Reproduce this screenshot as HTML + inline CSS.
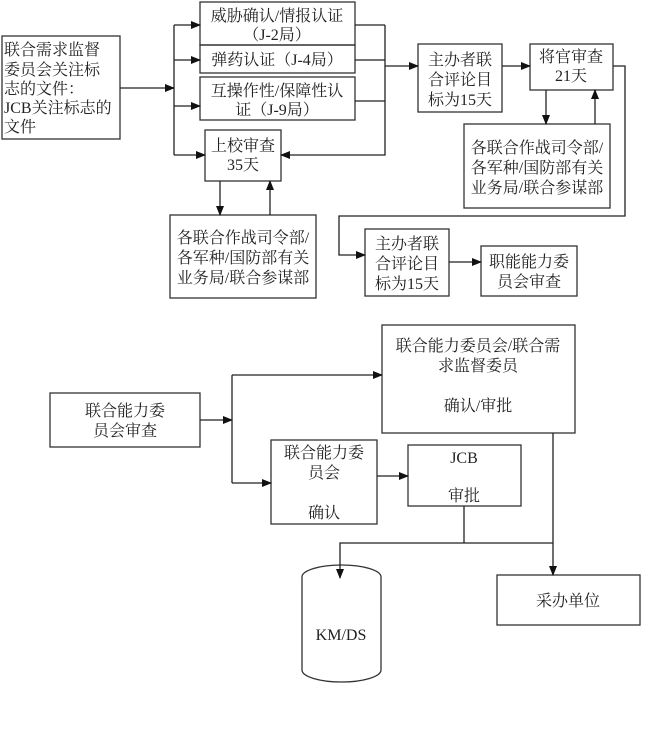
<!DOCTYPE html>
<html><head><meta charset="utf-8"><style>
html,body{margin:0;padding:0;background:#fff;}
svg{display:block;}
text{font-family:"Liberation Serif","Noto Serif CJK SC",serif;font-size:16px;fill:#222;}
</style></head><body>
<svg width="655" height="752" viewBox="0 0 655 752" xmlns="http://www.w3.org/2000/svg">
<defs><marker id="a" markerWidth="10" markerHeight="8" refX="9" refY="4" orient="auto" markerUnits="userSpaceOnUse"><path d="M0,0 L10,4 L0,8 Z" fill="#111"/></marker></defs>
<g fill="none" stroke="#333" stroke-width="1.3">
<rect x="2" y="36" width="118" height="103"/>
<rect x="200" y="2" width="155" height="43"/>
<rect x="200" y="45" width="155" height="28"/>
<rect x="200" y="77" width="155" height="43"/>
<rect x="205" y="130" width="76" height="51"/>
<rect x="170" y="215" width="146" height="83"/>
<rect x="418" y="44" width="84" height="68"/>
<rect x="530" y="44" width="83" height="46"/>
<rect x="464" y="124" width="146" height="84"/>
<rect x="365" y="229" width="84" height="67"/>
<rect x="481" y="246" width="96" height="50"/>
<rect x="50" y="393" width="150" height="54"/>
<rect x="382" y="325" width="193" height="108"/>
<rect x="271" y="440" width="106" height="84"/>
<rect x="408" y="445" width="113" height="61"/>
<rect x="497" y="575" width="143" height="50"/>
<path d="M302,577 A39.5,12 0 0 1 381,577 L381,670 A39.5,12 0 0 1 302,670 Z"/>
</g>
<g stroke="#222" stroke-width="1.3" fill="none">
<line x1="120" y1="88" x2="174" y2="88" marker-end="url(#a)"/>
<polyline points="174,25 174,155"/>
<line x1="174" y1="25" x2="200" y2="25" marker-end="url(#a)"/>
<line x1="174" y1="60" x2="200" y2="60" marker-end="url(#a)"/>
<line x1="174" y1="106" x2="200" y2="106" marker-end="url(#a)"/>
<line x1="174" y1="155" x2="205" y2="155" marker-end="url(#a)"/>
<line x1="355" y1="25" x2="385" y2="25"/>
<line x1="355" y1="60" x2="385" y2="60"/>
<line x1="355" y1="101" x2="385" y2="101"/>
<polyline points="385,25 385,155 281,155" marker-end="url(#a)"/>
<line x1="385" y1="66" x2="418" y2="66" marker-end="url(#a)"/>
<line x1="220" y1="181" x2="220" y2="215" marker-end="url(#a)"/>
<line x1="270" y1="215" x2="270" y2="181" marker-end="url(#a)"/>
<line x1="502" y1="66" x2="530" y2="66" marker-end="url(#a)"/>
<line x1="546" y1="90" x2="546" y2="124" marker-end="url(#a)"/>
<line x1="595" y1="124" x2="595" y2="90" marker-end="url(#a)"/>
<polyline points="613,66 625,66 625,216 339,216 339,255 365,255" marker-end="url(#a)"/>
<line x1="449" y1="262" x2="481" y2="262" marker-end="url(#a)"/>
<line x1="200" y1="420" x2="232" y2="420" marker-end="url(#a)"/>
<polyline points="232,375 232,483"/>
<line x1="232" y1="375" x2="382" y2="375" marker-end="url(#a)"/>
<line x1="232" y1="483" x2="271" y2="483" marker-end="url(#a)"/>
<line x1="377" y1="476" x2="408" y2="476" marker-end="url(#a)"/>
<polyline points="464,506 464,543"/>
<polyline points="553,543 340,543 340,578" marker-end="url(#a)"/>
<line x1="553" y1="433" x2="553" y2="575" marker-end="url(#a)"/>
</g>
<g>
<text x="4" y="55">联合需求监督</text>
<text x="4" y="75">委员会关注标</text>
<text x="4" y="94">志的文件：</text>
<text x="4" y="113">JCB关注标志的</text>
<text x="4" y="132">文件</text>
<text x="277" y="21" text-anchor="middle">威胁确认/情报认证</text>
<text x="277" y="40" text-anchor="middle">（J-2局）</text>
<text x="277" y="65" text-anchor="middle">弹药认证（J-4局）</text>
<text x="277" y="96" text-anchor="middle">互操作性/保障性认</text>
<text x="277" y="115" text-anchor="middle">证（J-9局）</text>
<text x="243" y="151" text-anchor="middle">上校审查</text>
<text x="243" y="170" text-anchor="middle">35天</text>
<text x="243" y="243" text-anchor="middle">各联合作战司令部/</text>
<text x="243" y="263" text-anchor="middle">各军种/国防部有关</text>
<text x="243" y="283" text-anchor="middle">业务局/联合参谋部</text>
<text x="460" y="65" text-anchor="middle">主办者联</text>
<text x="460" y="85" text-anchor="middle">合评论目</text>
<text x="460" y="105" text-anchor="middle">标为15天</text>
<text x="571" y="62" text-anchor="middle">将官审查</text>
<text x="571" y="81" text-anchor="middle">21天</text>
<text x="537" y="153" text-anchor="middle">各联合作战司令部/</text>
<text x="537" y="173" text-anchor="middle">各军种/国防部有关</text>
<text x="537" y="193" text-anchor="middle">业务局/联合参谋部</text>
<text x="407" y="249" text-anchor="middle">主办者联</text>
<text x="407" y="269" text-anchor="middle">合评论目</text>
<text x="407" y="289" text-anchor="middle">标为15天</text>
<text x="529" y="267" text-anchor="middle">职能能力委</text>
<text x="529" y="287" text-anchor="middle">员会审查</text>
<text x="125" y="416" text-anchor="middle">联合能力委</text>
<text x="125" y="436" text-anchor="middle">员会审查</text>
<text x="478" y="351" text-anchor="middle">联合能力委员会/联合需</text>
<text x="478" y="371" text-anchor="middle">求监督委员</text>
<text x="478" y="411" text-anchor="middle">确认/审批</text>
<text x="324" y="458" text-anchor="middle">联合能力委</text>
<text x="324" y="478" text-anchor="middle">员会</text>
<text x="324" y="518" text-anchor="middle">确认</text>
<text x="464" y="463" text-anchor="middle">JCB</text>
<text x="464" y="501" text-anchor="middle">审批</text>
<text x="568" y="606" text-anchor="middle">采办单位</text>
<text x="341" y="640" text-anchor="middle" style="font-size:16px">KM/DS</text>
</g>
</svg>
</body></html>
